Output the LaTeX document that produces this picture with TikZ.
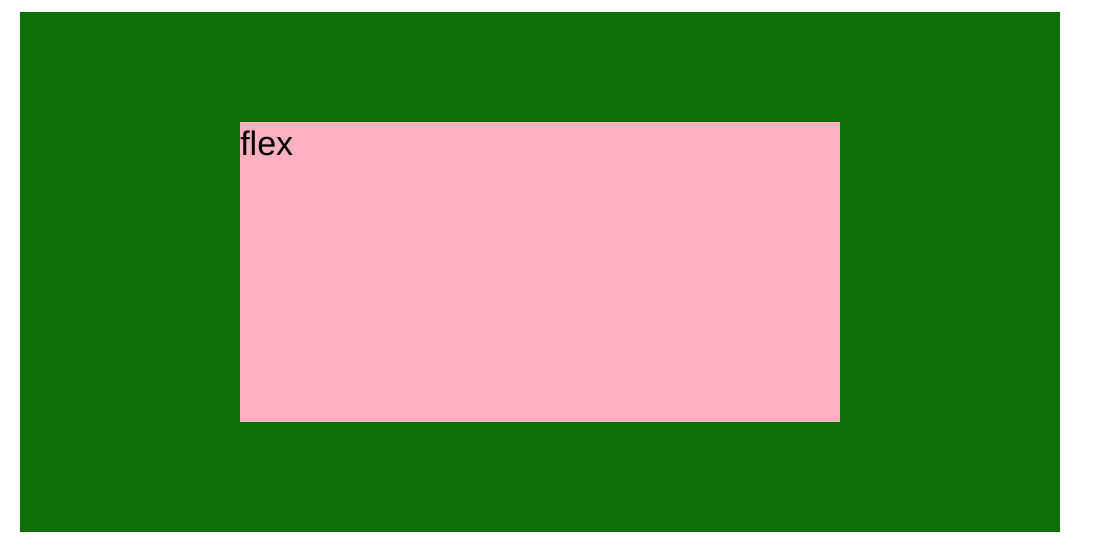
\documentclass[tikz,border=0pt]{standalone}
\usepackage{fontspec}
\setmainfont{Liberation Sans}
\usepackage{xcolor}
\usepackage{tikz}
\usetikzlibrary{positioning}

\definecolor{outergreen}{RGB}{15,110,5}
\definecolor{innerpink}{RGB}{253,176,192}

\begin{document}
\begin{tikzpicture}[x=0.75pt, y=-0.75pt]
        \tikzstyle{box} = [rectangle, inner sep=0pt, outer sep=0pt, anchor=north west]
        \tikzstyle{label} = [inner sep=0pt, anchor=base west, font=\fontsize{25.5}{30}\selectfont]

        \useasboundingbox (0,0) rectangle (1100,546);

        \node [box, fill=outergreen, minimum width=1040*0.75pt, minimum height=520*0.75pt] (container) at (20,12) {};
        \node [box, fill=innerpink, minimum width=600*0.75pt, minimum height=300*0.75pt] (item) at (240,122) {};
        \node [label] (itemtext) at (item.north west) [yshift=-33*0.75pt] {flex};
    \end{tikzpicture}
\end{document}
